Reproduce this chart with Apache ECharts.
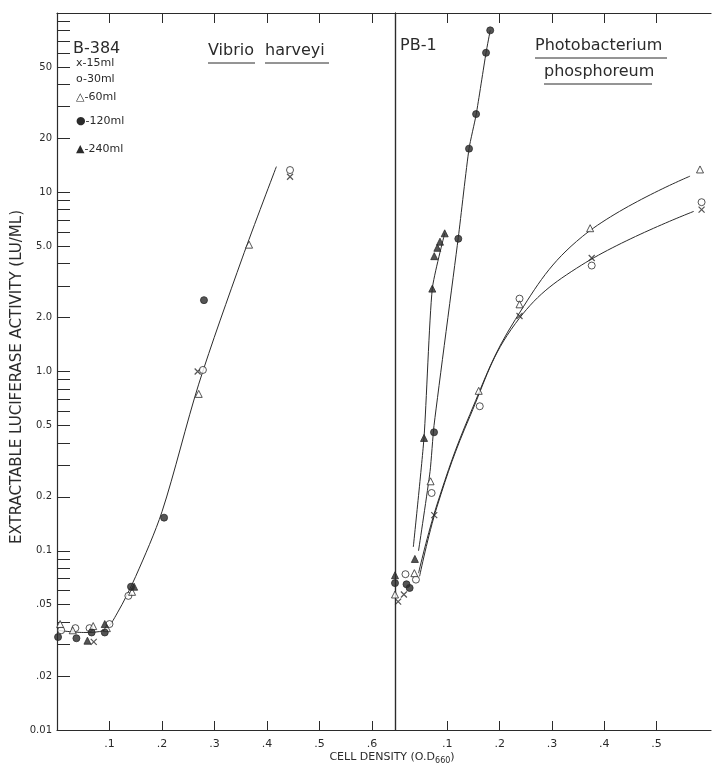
<!DOCTYPE html>
<html>
<head>
<meta charset="utf-8">
<script src="https://cdn.jsdelivr.net/npm/echarts@6/dist/echarts.min.js"></script>
<style>
  html, body { margin: 0; padding: 0; background: #fff; }
  #chart { width: 715px; height: 770px; }
</style>
</head>
<body>
<div id="chart"></div>
<script>
// axis ticks
const yTickValues = [0.01, 0.02, 0.05, 0.1, 0.2, 0.5, 1, 2, 5, 10, 20, 50]
const yTickLabels = ['0.01', '.02', '.05', '0.1', '0.2', '0.5', '1.0', '2.0', '5.0', '10', '20', '50']
const yMinorTicks = [0.01, 0.02, 0.03, 0.04, 0.05, 0.06, 0.07, 0.08, 0.09,
  0.1, 0.2, 0.3, 0.4, 0.5, 0.6, 0.7, 0.8, 0.9,
  1, 2, 3, 4, 5, 6, 7, 8, 9,
  10, 20, 30, 40, 50, 60, 70, 80, 90]
const xTickValuesLeft = [0.1, 0.2, 0.3, 0.4, 0.5, 0.6]
const xTickLabelsLeft = ['.1', '.2', '.3', '.4', '.5', '.6']
const xTickValuesRight = [0.1, 0.2, 0.3, 0.4, 0.5]
const xTickLabelsRight = ['.1', '.2', '.3', '.4', '.5']

// B-384 Vibrio harveyi  [cell density, LU/ml]
const vh15 = [[0.07, 0.031], [0.268, 1.0], [0.444, 12.2]]
const vh30 = [[0.008, 0.036], [0.035, 0.037], [0.062, 0.037], [0.1, 0.039], [0.136, 0.056], [0.278, 1.02], [0.444, 13.3]]
const vh60 = [[0.006, 0.039], [0.03, 0.036], [0.069, 0.038], [0.095, 0.037], [0.143, 0.059], [0.27, 0.75], [0.366, 5.1]]
const vh120 = [[0.002, 0.033], [0.037, 0.0325], [0.066, 0.035], [0.091, 0.035], [0.141, 0.063], [0.204, 0.153], [0.28, 2.5]]
const vh240 = [[0.058, 0.0315], [0.091, 0.039], [0.147, 0.063]]
const vhCurve = [[0, 0.036], [0.05, 0.035], [0.09, 0.036], [0.115, 0.045], [0.15, 0.072],
  [0.2, 0.165], [0.27, 0.85], [0.353, 4.3], [0.418, 13.9]]

// PB-1 Photobacterium phosphoreum
const pb15 = [[0.006, 0.052], [0.017, 0.057], [0.075, 0.158], [0.238, 2.04], [0.376, 4.3], [0.586, 8.0]]
const pb30 = [[0.02, 0.074], [0.04, 0.069], [0.07, 0.21], [0.162, 0.64], [0.238, 2.55], [0.376, 3.9], [0.586, 8.8]]
const pb60 = [[0, 0.057], [0.037, 0.075], [0.068, 0.244], [0.16, 0.78], [0.238, 2.37], [0.373, 6.3], [0.583, 13.4]]
const pb120 = [[0, 0.066], [0.022, 0.065], [0.028, 0.062], [0.0746, 0.458], [0.121, 5.5], [0.1415, 17.5], [0.155, 27.3], [0.174, 60], [0.182, 80]]
const pb240 = [[0, 0.073], [0.038, 0.09], [0.0555, 0.426], [0.0713, 2.9], [0.075, 4.4], [0.081, 4.9], [0.086, 5.3], [0.095, 5.9]]
const pbCurve60 = [[0.045, 0.075], [0.08, 0.18], [0.143, 0.575], [0.23, 1.95],
  [0.358, 5.66], [0.564, 12.3]]
const pbCurve30 = [[0.047, 0.072], [0.08, 0.175], [0.143, 0.56], [0.23, 1.85],
  [0.357, 3.93], [0.571, 7.82]]
const pbCurve120 = [[0.045, 0.1], [0.067, 0.277], [0.0746, 0.5], [0.121, 5.6], [0.1415, 17.5], [0.155, 27], [0.174, 60], [0.182, 80]]
const pbCurve240 = [[0.035, 0.105], [0.0555, 0.43], [0.0713, 2.9], [0.095, 5.9]]

const ink = '#2b2b2b'
const font = 'DejaVu Sans'
const crossPath = 'path://M0,0L10,10M10,0L0,10'

let myChart = echarts.init(document.getElementById('chart'), null, { renderer: 'canvas' })

// 点的样式
function dots(data, kind, xi, yi) {
  let symbol = 'circle'
  let style = { color: ink, borderColor: ink, borderWidth: 1 }
  let size = 7
  if (kind == 'x') {
    symbol = crossPath
    size = 6
    style = { color: 'rgba(0,0,0,0)', borderColor: ink, borderWidth: 1.2 }
  } else if (kind == 'o') {
    style.color = '#fff'
  } else if (kind == 'tri') {
    symbol = 'triangle'
    style.color = '#fff'
  } else if (kind == 'tri2') {
    symbol = 'triangle'
  }
  return {
    type: 'scatter',
    xAxisIndex: xi,
    yAxisIndex: yi,
    symbol: symbol,
    symbolSize: size,
    itemStyle: style,
    z: 5,
    silent: true,
    data: data
  }
}

function curve(data, xi, yi, smooth) {
  return {
    type: 'line',
    xAxisIndex: xi,
    yAxisIndex: yi,
    smooth: smooth,
    showSymbol: false,
    silent: true,
    z: 2,
    lineStyle: { color: ink, width: 1 },
    data: data
  }
}

const axisLine = { show: true, lineStyle: { color: ink, width: 1.2 } }

function yAxisCfg(gridIndex, position, withLabels) {
  return {
    type: 'log',
    logBase: 10,
    gridIndex: gridIndex,
    position: position,
    min: 0.01,
    max: 100,
    axisLine: axisLine,
    splitLine: { show: false },
    minorTick: { show: false },
    axisTick: withLabels ? {
      show: true, inside: true, length: 13,
      lineStyle: { color: ink, width: 1 },
      customValues: yMinorTicks
    } : { show: false },
    axisLabel: withLabels ? {
      show: true,
      fontFamily: font,
      fontSize: 10,
      color: ink,
      margin: 5,
      customValues: yTickValues,
      formatter: function (v) {
        const i = yTickValues.findIndex(t => Math.abs(t - v) / t < 1e-6)
        return i >= 0 ? yTickLabels[i] : ''
      }
    } : { show: false }
  }
}

function xAxisCfg(gridIndex, position, max, ticks, labels) {
  const bottom = position == 'bottom'
  return {
    type: 'value',
    gridIndex: gridIndex,
    position: position,
    min: 0,
    max: max,
    axisLine: axisLine,
    splitLine: { show: false },
    axisTick: {
      show: true, inside: true, length: bottom ? 9 : 10,
      lineStyle: { color: ink, width: 1 },
      customValues: ticks
    },
    axisLabel: bottom ? {
      show: true,
      fontFamily: font,
      fontSize: 11,
      color: ink,
      margin: 9,
      customValues: ticks,
      formatter: function (v) {
        const i = ticks.findIndex(t => Math.abs(t - v) < 1e-6)
        return i >= 0 ? labels[i] : ''
      }
    } : { show: false }
  }
}

const option = {
  backgroundColor: '#fff',
  animation: false,
  grid: [
    { left: 57, top: 13, width: 338, height: 717 },
    { left: 395, top: 13, width: 316, height: 717 }
  ],
  xAxis: [
    xAxisCfg(0, 'bottom', 0.644, xTickValuesLeft, xTickLabelsLeft),
    xAxisCfg(0, 'top', 0.644, xTickValuesLeft, xTickLabelsLeft),
    xAxisCfg(1, 'bottom', 0.604, xTickValuesRight, xTickLabelsRight),
    xAxisCfg(1, 'top', 0.604, xTickValuesRight, xTickLabelsRight)
  ],
  yAxis: [
    yAxisCfg(0, 'left', true),
    yAxisCfg(1, 'left', false),
    yAxisCfg(1, 'right', false)
  ],
  graphic: [
    {
      type: 'text', x: 392, y: 757,
      style: {
        text: '{a|CELL DENSITY (O.D}{s|660}{a|)}',
        align: 'center', verticalAlign: 'middle',
        rich: {
          a: { fontFamily: font, fontSize: 11, fill: ink },
          s: { fontFamily: font, fontSize: 8, fill: ink, padding: [7, 0, 0, 0] }
        }
      }
    },
    {
      type: 'text', x: 17, y: 377, rotation: Math.PI / 2,
      style: {
        text: 'EXTRACTABLE LUCIFERASE ACTIVITY (LU/ML)',
        fontFamily: font, fontSize: 15, fill: ink,
        align: 'center', verticalAlign: 'middle'
      }
    },
    // B-384 legend
    { type: 'text', x: 73, y: 41, style: { text: 'B-384', fontFamily: font, fontSize: 16, fill: ink } },
    { type: 'text', x: 76, y: 58, style: { text: 'x-15ml', fontFamily: font, fontSize: 11, fill: ink } },
    { type: 'text', x: 76, y: 74, style: { text: 'o-30ml', fontFamily: font, fontSize: 11, fill: ink } },
    { type: 'text', x: 76, y: 92, style: { text: '△-60ml', fontFamily: font, fontSize: 11, fill: ink } },
    { type: 'text', x: 76, y: 116, style: { text: '●-120ml', fontFamily: font, fontSize: 11, fill: ink } },
    { type: 'text', x: 76, y: 144, style: { text: '▲-240ml', fontFamily: font, fontSize: 11, fill: ink } },
    { type: 'text', x: 208, y: 43, style: { text: 'Vibrio', fontFamily: font, fontSize: 16, fill: ink } },
    { type: 'text', x: 265, y: 43, style: { text: 'harveyi', fontFamily: font, fontSize: 16, fill: ink } },
    { type: 'line', shape: { x1: 208, y1: 63, x2: 255, y2: 63 }, style: { stroke: ink, lineWidth: 1 } },
    { type: 'line', shape: { x1: 265, y1: 63, x2: 329, y2: 63 }, style: { stroke: ink, lineWidth: 1 } },
    // PB-1
    { type: 'text', x: 400, y: 38, style: { text: 'PB-1', fontFamily: font, fontSize: 16, fill: ink } },
    { type: 'text', x: 535, y: 38, style: { text: 'Photobacterium', fontFamily: font, fontSize: 16, fill: ink } },
    { type: 'line', shape: { x1: 535, y1: 58, x2: 667, y2: 58 }, style: { stroke: ink, lineWidth: 1 } },
    { type: 'text', x: 544, y: 64, style: { text: 'phosphoreum', fontFamily: font, fontSize: 16, fill: ink } },
    { type: 'line', shape: { x1: 544, y1: 84, x2: 652, y2: 84 }, style: { stroke: ink, lineWidth: 1 } }
  ],
  series: [
    curve(vhCurve, 0, 0, 0.3),
    dots(vh15, 'x', 0, 0),
    dots(vh30, 'o', 0, 0),
    dots(vh60, 'tri', 0, 0),
    dots(vh120, 'dot', 0, 0),
    dots(vh240, 'tri2', 0, 0),

    curve(pbCurve60, 2, 1, 0.4),
    curve(pbCurve30, 2, 1, 0.4),
    curve(pbCurve120, 2, 1, 0.2),
    curve(pbCurve240, 2, 1, 0.2),
    dots(pb15, 'x', 2, 1),
    dots(pb30, 'o', 2, 1),
    dots(pb60, 'tri', 2, 1),
    dots(pb120, 'dot', 2, 1),
    dots(pb240, 'tri2', 2, 1)
  ]
}
myChart.setOption(option)
</script>
</body>
</html>
